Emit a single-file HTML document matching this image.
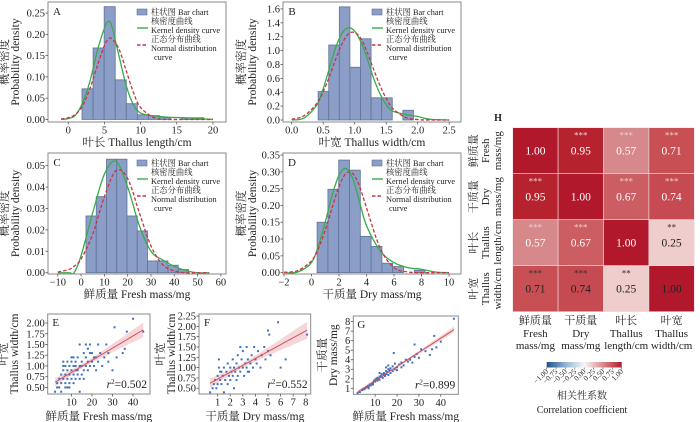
<!DOCTYPE html>
<html><head><meta charset="utf-8">
<style>
html,body{margin:0;padding:0;background:#fff;}
svg{display:block;font-family:"Liberation Serif","Noto Serif CJK SC",serif;}
</style></head>
<body>
<svg id="fig" width="700" height="422" viewBox="0 0 700 422" xmlns="http://www.w3.org/2000/svg"></svg>
<script>
// ---------- DATA ----------
const binStartA = 1.9, binWidthA = 1.53;
const barsA = [0.072,0.168,0.265,0.093,0.037,0.011,0.009,0.004,0,0.004,0.004];
const gridA = [-1,0,1,2,3,4,5,5.5,6,7,8,9,10,12,14,16,18,20];
const kdeA = [0,0.002,0.01,0.04,0.09,0.16,0.215,0.23,0.22,0.15,0.08,0.035,0.015,0.008,0.005,0.004,0.002,0];
const normA = [0.001,0.004,0.012,0.033,0.073,0.125,0.174,0.188,0.19,0.166,0.115,0.064,0.028,0.003,0,0,0,0];
const xTicksA = [0,5,10,15,20];
const yTicksA = [0,0.05,0.10,0.15,0.20,0.25];

const binStartB = 0.42, binWidthB = 0.168;
const barsB = [0.41,1.08,1.63,0.76,1.17,0.32,0.32,0,0.14];
const gridB = [0,0.2,0.4,0.5,0.6,0.7,0.8,0.9,1.0,1.1,1.2,1.3,1.4,1.5,1.6,1.8,2.0,2.2,2.5];
const kdeB = [0,0.03,0.22,0.45,0.75,1.05,1.25,1.33,1.28,1.12,0.88,0.6,0.38,0.22,0.13,0.08,0.05,0.01,0];
const normB = [0.011,0.063,0.24,0.41,0.63,0.88,1.10,1.24,1.26,1.17,0.97,0.73,0.50,0.31,0.17,0.039,0.006,0,0];
const xTicksB = [0,0.5,1.0,1.5,2.0,2.5];
const yTicksB = [0,0.2,0.4,0.6,0.8,1.0,1.2,1.4,1.6];

const binStartC = 2.1, binWidthC = 4.4;
const barsC = [0.0265,0.0355,0.053,0.053,0.0265,0.0195,0.0055,0.0055,0.0035,0.0015];
const gridC = [-10,-5,-3,0,5,10,15,20,25,30,35,40,45,50,55];
const kdeC = [0,0,0,0.008,0.028,0.046,0.052,0.04,0.022,0.01,0.006,0.003,0.001,0,0];
const normC = [0.0003,0.0016,0.003,0.0064,0.018,0.0355,0.0477,0.044,0.028,0.0125,0.0038,0.0008,0,0,0];
const xTicksC = [-10,0,10,20,30,40,50,60];
const yTicksC = [0,0.01,0.02,0.03,0.04,0.05];

const binStartD = 0.41, binWidthD = 0.785;
const barsD = [0.15,0.248,0.335,0.305,0.108,0.078,0.028,0.018,0,0.007];
const gridD = [-2,-1,0,0.5,1,1.5,2,2.5,3,3.5,4,5,6,7,8,9,10];
const kdeD = [0,0.002,0.03,0.08,0.15,0.23,0.29,0.31,0.28,0.21,0.14,0.065,0.03,0.015,0.01,0.002,0];
const normD = [0.001,0.006,0.035,0.072,0.126,0.193,0.256,0.295,0.295,0.256,0.193,0.072,0.015,0.002,0,0,0];
const xTicksD = [-2,0,2,4,6,8,10];
const yTicksD = [0,0.05,0.10,0.15,0.20,0.25,0.30,0.35];

const freshE = [2,3,3,4,4,5,5,5,6,6,6,6,7,7,7,8,8,8,8,9,9,9,10,10,10,10,11,11,11,12,12,12,12,13,13,13,14,14,14,14,15,15,15,16,16,16,17,17,17,18,18,18,19,19,20,20,21,22,22,23,24,25,26,27,28,28,30,31,32,35,36,37,40,45,19,21,23,11,9,7];
const widthE = [0.4,0.5,0.6,0.7,0.5,0.6,0.8,0.4,0.7,0.9,1.0,1.1,0.6,0.8,1.0,0.5,0.7,0.9,1.1,0.8,1.0,0.6,0.7,0.9,1.2,1.1,0.8,1.0,0.6,0.9,0.7,1.1,1.0,0.8,1.2,0.9,0.4,1.0,1.5,0.7,1.1,0.8,1.0,0.9,1.3,0.7,1.2,1.0,1.5,1.4,1.1,0.9,1.0,1.5,1.3,1.1,1.0,1.2,0.9,1.1,1.3,1.0,1.2,1.5,1.3,1.1,0.9,1.9,1.2,1.3,1.4,1.8,2.1,1.8,1.3,1.2,1.5,1.2,0.5,0.5];
const dryF = [0.4,0.6,0.7,0.8,0.9,1.0,1.0,1.1,1.1,1.2,1.3,1.3,1.4,1.5,1.5,1.6,1.7,1.8,1.8,1.9,2.0,2.0,2.1,2.2,2.2,2.3,2.4,2.5,2.5,2.6,2.7,2.8,2.8,2.9,3.0,3.0,3.1,3.2,3.3,3.3,3.4,3.5,3.6,3.7,3.8,3.9,4.0,4.1,4.2,4.4,4.5,4.7,4.8,5.0,5.0,5.1,5.2,5.8,6.0,6.4,8.1,2.3,1.2,3.4,2.6];
const widthF = [0.4,0.5,0.6,0.7,0.5,0.6,0.8,1.0,1.2,0.7,0.9,0.6,0.8,1.0,0.4,0.7,0.9,1.1,0.6,0.8,1.0,0.7,0.9,1.2,0.8,1.0,0.9,1.1,0.7,1.3,1.0,1.5,0.9,1.2,1.0,1.4,0.8,1.1,1.5,1.0,1.2,0.9,1.1,1.3,1.0,1.5,1.2,1.1,1.4,1.0,1.3,1.5,1.2,1.9,1.4,1.8,1.3,2.1,1.0,1.2,1.8,0.5,0.9,0.9,0.8];
const freshG = [2,3,4,4.5,5,5.5,6,6.5,7,7,8,8.5,9,9,10,10,10.5,11,11,11.5,12,12,12.5,13,13,13.5,14,14,14.5,15,15,15,15.5,16,16,16.5,17,17,18,18,18.5,19,20,20,21,22,23,24,25,26,27,28,28,29,30,31,33,35,36,37,38,40,46,7.5,9.5,16,19,22,12];
const dryG = [0.5,0.6,0.8,0.9,0.9,1.0,1.1,1.2,1.2,1.0,1.3,1.5,1.6,1.4,1.7,1.9,2.0,1.8,2.1,2.0,2.2,1.9,2.3,2.2,2.5,2.1,2.4,2.6,2.3,2.8,2.5,3.2,2.7,3.0,2.4,2.9,3.1,2.6,2.8,3.3,4.7,3.0,3.2,2.9,3.5,3.2,3.4,4.0,3.8,4.0,3.7,4.3,5.6,4.6,4.2,5.1,4.9,4.5,5.1,6.5,5.3,5.9,8.3,1.4,1.8,3.4,3.6,3.7,2.6];
const r2Labels = ["0.502","0.552","0.899"];

const hmVars = ["Fresh","Dry","Length","Width"];
const hmValues = [[1.00,0.95,0.57,0.71],[0.95,1.00,0.67,0.74],[0.57,0.67,1.00,0.25],[0.71,0.74,0.25,1.00]];
const hmStars = [["","***","***","***"],["***","","***","***"],["***","***","","**"],["***","***","**",""]];
const cbTicks = [-1,-0.75,-0.5,-0.25,0,0.25,0.5,0.75,1];

// ---------- DRAW ----------
const NS = "http://www.w3.org/2000/svg";
const svg = document.getElementById('fig');
function mk(tag, name, attrs, parent){
  const e = document.createElementNS(NS, tag);
  
  
  for (const k in attrs) e.setAttribute(k, attrs[k]);
  (parent || svg).appendChild(e);
  return e;
}
function txt(name, x, y, s, size, anchor, parent, extra){
  const t = mk('text', name, Object.assign({x:x, y:y, 'font-size':size, 'text-anchor':anchor||'middle', fill:'#222'}, extra||{}), parent);
  t.textContent = s;
  return t;
}
function vtxt(name, x, cy, s, size, parent){
  const bx = x + size*0.35;
  return txt(name, bx, cy, s, size, 'middle', parent, {transform:'rotate(-90 '+bx+' '+cy+')'});
}
function scales(box, xd, yd){
  return {
    sx: v => box[0] + (v - xd[0]) / (xd[1] - xd[0]) * (box[2] - box[0]),
    sy: v => box[3] - (v - yd[0]) / (yd[1] - yd[0]) * (box[3] - box[1])
  };
}
function fmt(v, d){ return (v < 0 ? "−" : "") + Math.abs(v).toFixed(d); }
function smoothPath(pts){
  let d = "M" + pts[0][0].toFixed(2) + "," + pts[0][1].toFixed(2);
  for (let i = 0; i < pts.length - 1; i++){
    const p0 = pts[Math.max(i-1,0)], p1 = pts[i], p2 = pts[i+1], p3 = pts[Math.min(i+2, pts.length-1)];
    const c1 = [p1[0] + (p2[0]-p0[0])/6, p1[1] + (p2[1]-p0[1])/6];
    const c2 = [p2[0] - (p3[0]-p1[0])/6, p2[1] - (p3[1]-p1[1])/6];
    d += " C" + c1.map(v=>v.toFixed(2)).join(",") + " " + c2.map(v=>v.toFixed(2)).join(",") + " " + p2[0].toFixed(2) + "," + p2[1].toFixed(2);
  }
  return d;
}
function axes(g, box, S, xticks, xd, yticks, yd, tsz){
  mk('rect', 'plot-frame', {x:box[0], y:box[1], width:box[2]-box[0], height:box[3]-box[1], fill:'none', stroke:'#8a8a8a', 'stroke-width':1}, g);
  xticks.forEach(v => {
    const x = S.sx(v);
    mk('line', 'x-tick', {x1:x, x2:x, y1:box[3], y2:box[3]+2.5, stroke:'#555', 'stroke-width':0.8}, g);
    txt('x-tick-label', x, box[3]+11.5, fmt(v, xd), tsz, 'middle', g);
  });
  yticks.forEach(v => {
    const y = S.sy(v);
    mk('line', 'y-tick', {x1:box[0]-2.5, x2:box[0], y1:y, y2:y, stroke:'#555', 'stroke-width':0.8}, g);
    txt('y-tick-label', box[0]-3, y+3.5, fmt(v, yd), tsz, 'end', g);
  });
}

function histPanel(id, box, xd, yd, binStart, binWidth, bars, grid, kde, norm, xticks, xdec, yticks, ydec, xlabel, ylx){
  const g = mk('g', 'histogram-panel-' + id, {}, svg);
  const S = scales(box, xd, yd);
  const clipId = 'clip' + id;
  const cp = mk('clipPath', 'clip', {id: clipId}, g);
  mk('rect', 'clip-rect', {x:box[0], y:box[1], width:box[2]-box[0], height:box[3]-box[1]}, cp);
  const inner = mk('g', 'plot-area', {'clip-path':'url(#'+clipId+')'}, g);
  bars.forEach((h, i) => {
    if (h <= 0) return;
    const x0 = S.sx(binStart + i*binWidth), x1 = S.sx(binStart + (i+1)*binWidth);
    mk('rect', 'histogram-bar', {x:x0, y:S.sy(h), width:x1-x0, height:S.sy(0)-S.sy(h), fill:'#8a9ec8', stroke:'#5f7297', 'stroke-width':0.8}, inner);
  });
  mk('path', 'kde-curve', {d: smoothPath(grid.map((x,i)=>[S.sx(x), S.sy(kde[i])])), fill:'none', stroke:'#3aab4a', 'stroke-width':1.3}, inner);
  mk('path', 'normal-curve', {d: smoothPath(grid.map((x,i)=>[S.sx(x), S.sy(norm[i])])), fill:'none', stroke:'#cc3340', 'stroke-width':1.3, 'stroke-dasharray':'3.5,2'}, inner);
  axes(g, box, S, xticks, xdec, yticks, ydec, 10.5);
  txt('panel-letter', box[0]+9, box[1]+13, id, 11, 'middle', g);
  const lx = box[0] + 89, ly = box[1];
  const lg = mk('g', 'legend', {}, g);
  mk('rect', 'legend-bar-swatch', {x:lx, y:ly+7, width:10, height:6, fill:'#8a9ec8', stroke:'#5f7297', 'stroke-width':0.6}, lg);
  txt('legend-bar-label', lx+14, ly+13, '柱状图 Bar chart', 8.3, 'start', lg);
  txt('legend-kde-label-cn', lx+14, ly+22, '核密度曲线', 8.3, 'start', lg);
  mk('line', 'legend-kde-swatch', {x1:lx, x2:lx+11, y1:ly+26, y2:ly+26, stroke:'#3aab4a', 'stroke-width':1.4}, lg);
  txt('legend-kde-label', lx+14, ly+31, 'Kernel density curve', 8.3, 'start', lg);
  txt('legend-normal-label-cn', lx+14, ly+40, '正态分布曲线', 8.3, 'start', lg);
  mk('line', 'legend-normal-swatch', {x1:lx, x2:lx+11, y1:ly+43, y2:ly+43, stroke:'#cc3340', 'stroke-width':1.4, 'stroke-dasharray':'3.5,2'}, lg);
  txt('legend-normal-label', lx+14, ly+49, 'Normal distribution', 8.3, 'start', lg);
  txt('legend-normal-label-2', lx+17, ly+58, 'curve', 8.3, 'start', lg);
  txt('x-axis-title', (box[0]+box[2])/2, box[3]+24, xlabel, 11.5, 'middle', g);
  const cy = (box[1]+box[3])/2;
  vtxt('y-axis-title-cn', ylx, cy, '概率密度', 11.5, g);
  vtxt('y-axis-title', ylx+11, cy, 'Probability density', 11.5, g);
}

histPanel('A', [48,2,226,122], [-2.8,21.8], [-0.006,0.276], binStartA, binWidthA, barsA, gridA, kdeA, normA, xTicksA, 0, yTicksA, 2, '叶长 Thallus length/cm', 4);
histPanel('B', [283,2,461,122], [-0.138,2.687], [-0.029,1.70], binStartB, binWidthB, barsB, gridB, kdeB, normB, xTicksB, 1, yTicksB, 1, '叶宽 Thallus width/cm', 241);
histPanel('C', [48,153,226,274], [-14.2,62.2], [-0.0006,0.0559], binStartC, binWidthC, barsC, gridC, kdeC, normC, xTicksC, 0, yTicksC, 2, '鲜质量 Fresh mass/mg', 4);
histPanel('D', [283,153,461,274], [-2.07,10.87], [-0.004,0.356], binStartD, binWidthD, barsD, gridD, kdeD, normD, xTicksD, 0, yTicksD, 2, '干质量 Dry mass/mg', 241);

function scatterPanel(id, box, xd, yd, xs, ys, xticks, yticks, ydec, xlabel, ylabCn, ylabEn, ylx, r2){
  const g = mk('g', 'scatter-panel-' + id, {}, svg);
  const S = scales(box, xd, yd);
  const n = xs.length;
  const mx = xs.reduce((a,b)=>a+b,0)/n, my = ys.reduce((a,b)=>a+b,0)/n;
  let sxx=0, sxy=0;
  for (let i=0;i<n;i++){ sxx += (xs[i]-mx)**2; sxy += (xs[i]-mx)*(ys[i]-my); }
  const b = sxy/sxx, a = my - b*mx;
  let sse = 0;
  for (let i=0;i<n;i++) sse += (ys[i]-a-b*xs[i])**2;
  const s = Math.sqrt(sse/(n-2));
  const xmin = Math.min(...xs), xmax = Math.max(...xs);
  const up = [], lo = [];
  for (let k=0;k<=30;k++){
    const x = xmin + (xmax-xmin)*k/30;
    const se = 1.98*s*Math.sqrt(1/n + (x-mx)**2/sxx);
    up.push([S.sx(x), S.sy(a+b*x+se)]);
    lo.push([S.sx(x), S.sy(a+b*x-se)]);
  }
  const band = 'M' + up.map(p=>p.join(',')).join(' L') + ' L' + lo.reverse().map(p=>p.join(',')).join(' L') + ' Z';
  mk('path', 'confidence-band', {d: band, fill:'#e8a7ab', 'fill-opacity':0.45, stroke:'none'}, g);
  xs.forEach((x,i) => {
    mk('rect', 'scatter-point', {x:S.sx(x)-1, y:S.sy(ys[i])-1, width:2, height:2, fill:'#3f6fbf'}, g);
  });
  mk('line', 'regression-line', {x1:S.sx(xmin), y1:S.sy(a+b*xmin), x2:S.sx(xmax), y2:S.sy(a+b*xmax), stroke:'#d2505a', 'stroke-width':1}, g);
  axes(g, box, S, xticks, 0, yticks, ydec, 10.5);
  txt('panel-letter', box[0]+8, box[1]+12, id, 11, 'middle', g);
  const rt = txt('r-squared-label', box[2]-3, box[3]-6, '', 11.5, 'end', g);
  const t1 = document.createElementNS(NS,'tspan'); t1.setAttribute('font-style','italic'); t1.textContent='r'; rt.appendChild(t1);
  const t2 = document.createElementNS(NS,'tspan'); t2.setAttribute('font-size','7'); t2.setAttribute('dy','-4'); t2.textContent='2'; rt.appendChild(t2);
  const t3 = document.createElementNS(NS,'tspan'); t3.setAttribute('dy','4'); t3.textContent='=' + r2; rt.appendChild(t3);
  txt('x-axis-title', (box[0]+box[2])/2, 420, xlabel, 11.5, 'middle', g);
  const cy = (box[1]+box[3])/2;
  vtxt('y-axis-title-cn', ylx, cy, ylabCn, 11.5, g);
  vtxt('y-axis-title', ylx+11, cy, ylabEn, 11.5, g);
}
scatterPanel('E', [47.7,314,150,394], [-1.6,48.3], [0.347,2.21], freshE, widthE, [10,20,30,40], [0.5,0.75,1.0,1.25,1.5,1.75,2.0], 2, '鲜质量 Fresh mass/mg', '叶宽', 'Thallus width/cm', 3, r2Labels[0]);
scatterPanel('F', [199,314,310.7,394], [-0.48,8.39], [0.36,2.30], dryF, widthF, [1,2,3,4,5,6,7,8], [0.5,0.75,1.0,1.25,1.5,1.75,2.0,2.25], 2, '干质量 Dry mass/mg', '叶宽', 'Thallus width/cm', 160, r2Labels[1]);
scatterPanel('G', [353.3,316,458.3,394.3], [0,48], [0.37,8.59], freshG, dryG, [10,20,30,40], [1,2,3,4,5,6,7,8], 0, '鲜质量 Fresh mass/mg', '干质量', 'Dry mass/mg', 322, r2Labels[2]);

// Heatmap
const hg = mk('g', 'correlation-heatmap', {}, svg);
const hx0 = 512.7, hy0 = 127.7, cw = 45.4, ch = 46;
const stops = [[0,[247,247,247]],[0.25,[239,205,205]],[0.57,[214,136,139]],[0.7,[201,82,87]],[0.95,[182,35,47]],[1,[178,24,43]]];
function hmColor(v){
  for (let i=0;i<stops.length-1;i++){
    if (v <= stops[i+1][0]){
      const t = (v-stops[i][0])/(stops[i+1][0]-stops[i][0]);
      const c = stops[i][1].map((c0,k)=>Math.round(c0 + (stops[i+1][1][k]-c0)*t));
      return 'rgb(' + c.join(',') + ')';
    }
  }
  return 'rgb(178,24,43)';
}
hmValues.forEach((row, r) => row.forEach((v, c) => {
  const x = hx0 + c*cw, y = hy0 + r*ch;
  mk('rect', 'heatmap-cell', {x:x, y:y, width:cw, height:ch, fill:hmColor(v), stroke:'#f2dede', 'stroke-width':0.6}, hg);
  const dark = (v < 0.4) || r === 3;
  const col = dark ? '#222' : '#fff';
  if (hmStars[r][c]) txt('significance-stars', x+cw/2, y+11, hmStars[r][c], 9, 'middle', hg, {fill: dark ? '#333' : '#e8d0d0'});
  txt('cell-value', x+cw/2, y+27, v.toFixed(2), 11.5, 'middle', hg, {fill: col});
}));
txt('panel-letter', 498, 121, 'H', 10, 'middle', hg, {'font-weight':'bold'});
const rowLabels = [['鲜质量','Fresh','mass/mg'],['干质量','Dry','mass/mg'],['叶长','Thallus','length/cm'],['叶宽','Thallus','width/cm']];
rowLabels.forEach((lab, r) => {
  const cy = hy0 + r*ch + ch/2;
  [473, 485, 497].forEach((x, k) => vtxt('row-label', x, cy, lab[k], 11, hg));
});
rowLabels.forEach((lab, c) => {
  const cx = hx0 + c*cw + cw/2;
  [324, 337, 349].forEach((y, k) => txt('column-label', cx, y, lab[k], 11, 'middle', hg));
});
const defs = mk('defs', 'defs', {}, hg);
const lgd = mk('linearGradient', 'colorbar-gradient', {id:'cbgrad', x1:'0', x2:'1', y1:'0', y2:'0'}, defs);
[['0','#1f4e89'],['0.25','#8db5d6'],['0.5','#f7f7f7'],['0.75','#dc8a8d'],['1','#b2182b']].forEach(s => mk('stop', 'gradient-stop', {offset:s[0], 'stop-color':s[1]}, lgd));
const cbx0 = 546.7, cbx1 = 621.7;
mk('rect', 'colorbar', {x:cbx0, y:362, width:cbx1-cbx0, height:5.5, fill:'url(#cbgrad)'}, hg);
cbTicks.forEach(v => {
  const x = cbx0 + (v+1)/2*(cbx1-cbx0);
  mk('line', 'colorbar-tick', {x1:x, x2:x, y1:367.5, y2:369.5, stroke:'#555', 'stroke-width':0.6}, hg);
  txt('colorbar-tick-label', x+2, 372, fmt(v,2), 7.5, 'end', hg, {transform:'rotate(-45 '+(x+2)+' 372)'});
});
txt('colorbar-title-cn', 582, 399, '相关性系数', 10, 'middle', hg);
txt('colorbar-title', 582, 413, 'Correlation coefficient', 10, 'middle', hg);
</script>
</body></html>
